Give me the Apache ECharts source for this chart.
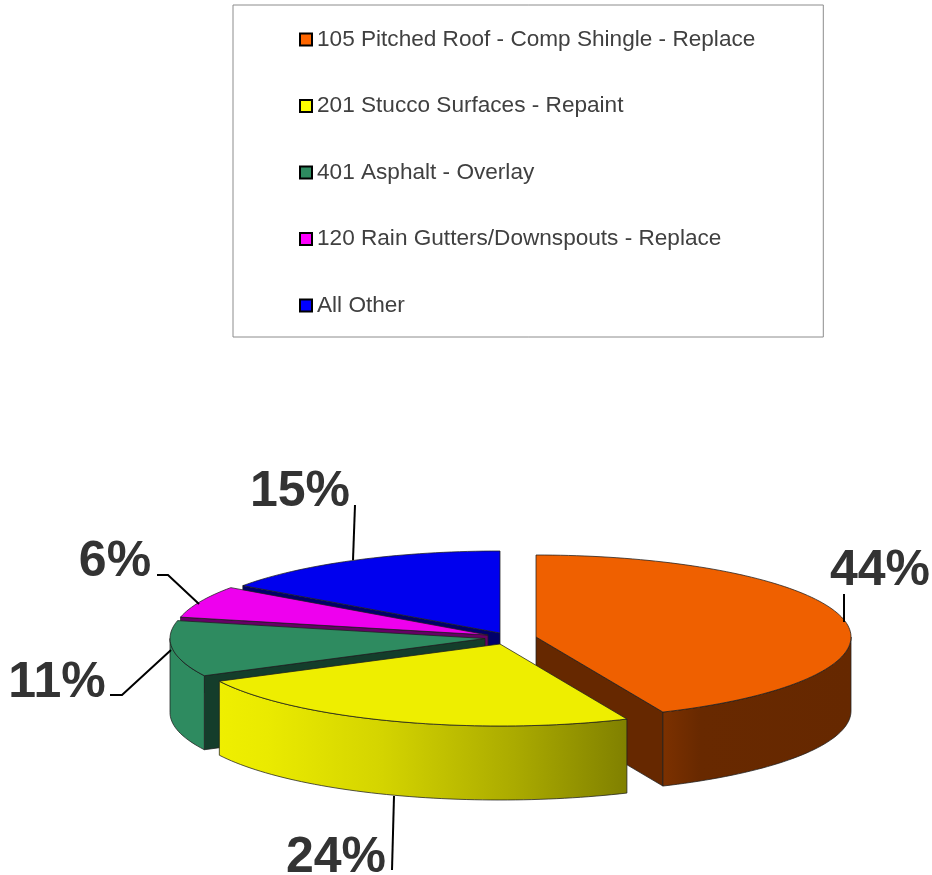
<!DOCTYPE html>
<html>
<head>
<meta charset="utf-8">
<style>html,body{margin:0;padding:0;background:#fff}#c{width:932px;height:875px}</style>
<script src="https://cdn.jsdelivr.net/npm/echarts@6/dist/echarts.min.js"></script>
</head>
<body>
<div id="c"></div>
<script>
// Data
const categories = [
  '105 Pitched Roof - Comp Shingle - Replace',
  '201 Stucco Surfaces - Repaint',
  '401 Asphalt - Overlay',
  '120 Rain Gutters/Downspouts - Replace',
  'All Other'
];
const shares = [43.4, 24.1, 11, 6.3, 15.2];
const percentLabels = ['44%', '24%', '11%', '6%', '15%'];

// Styles and layout
const legendColors = ['#FF6600', '#FFFF00', '#2E8B60', '#FF00FF', '#0000FF'];
const topColors = ['#EF6000', '#EEEE00', '#2E8B60', '#EE00EE', '#0000EE'];
const faceColors = ['#662800', '#7A7A00', '#143D2B', '#660066', '#00006A'];
const apexes = [[536, 637], [500, 644], [485, 638.5], [488, 635], [500, 633]];
const drawOrder = [4, 5, 3, 2, 1];
const leaders = [
  [[844, 594], [844, 622]],
  [[392, 870], [394, 796]],
  [[110, 695], [122, 695], [171, 650]],
  [[157, 575], [168, 575], [199, 604]],
  [[355, 505], [353, 560]]
];
const labelAt = [[880, 571], [336, 858], [57, 683], [115, 562], [300, 492]];
const RX = 315, RY = 82, DEPTH = 74;

const total = shares.reduce((a, b) => a + b, 0);
function startAngle(i) {
  let s = 0;
  for (let k = 0; k < i; k++) s += shares[k];
  return s / total * 360;
}
function pt(c, deg, dy) {
  const t = deg * Math.PI / 180;
  return [c[0] + RX * Math.sin(t), c[1] - RY * Math.cos(t) + (dy || 0)];
}
function arc(c, a, b, dy) {
  const n = Math.max(2, Math.ceil(Math.abs(b - a) / 1.5));
  const out = [];
  for (let k = 0; k <= n; k++) out.push(pt(c, a + (b - a) * k / n, dy));
  return out;
}
const edge = 'rgba(30,30,30,0.75)';

function sideFill(i) {
  if (i === 1) {
    return new echarts.graphic.LinearGradient(0, 0, 1, 0, [
      { offset: 0, color: '#EFEF00' },
      { offset: 0.12, color: '#EAEA00' },
      { offset: 0.4, color: '#D4D400' },
      { offset: 0.72, color: '#ABAB00' },
      { offset: 1, color: '#808000' }
    ]);
  }
  if (i === 0) {
    return new echarts.graphic.LinearGradient(0, 0, 1, 0, [
      { offset: 0, color: '#7C3100' },
      { offset: 0.2, color: '#682900' },
      { offset: 1, color: '#662800' }
    ]);
  }
  return topColors[i];
}

function makeRender(i) {
  return function (params, api) {
    const share = api.value(0);
    const a = startAngle(i);
    const b = a + share / total * 360;
    const c = apexes[i];
    const children = [];
    const poly = (points, fill) => children.push({
      type: 'polygon',
      shape: { points },
      style: { fill, stroke: edge, lineWidth: 1 }
    });
    const radial = (deg) => {
      const p = pt(c, deg), q = pt(c, deg, DEPTH);
      poly([c, p, q, [c[0], c[1] + DEPTH]], faceColors[i]);
    };
    // radial faces that look towards the viewer
    if (Math.sin(b * Math.PI / 180) > 0.001) radial(b);
    if (Math.sin(a * Math.PI / 180) < -0.001) radial(a);
    // outer rim on the front half of the ellipse
    const fa = Math.max(a, 90), fb = Math.min(b, 270);
    if (fb > fa) {
      poly(arc(c, fa, fb, 0).concat(arc(c, fb, fa, DEPTH)), sideFill(i));
    }
    // top face
    poly([c].concat(arc(c, a, b, 0)), topColors[i]);
    // leader line and label
    children.push({
      type: 'polyline',
      shape: { points: leaders[i] },
      style: { fill: 'none', stroke: '#000', lineWidth: 2 }
    });
    children.push({
      type: 'text',
      x: labelAt[i][0],
      y: labelAt[i][1],
      style: {
        text: percentLabels[i],
        fill: '#333333',
        font: 'bold 50px "Liberation Sans", Arial, sans-serif',
        align: 'center',
        verticalAlign: 'middle'
      }
    });
    return { type: 'group', children };
  };
}

const chart = echarts.init(document.getElementById('c'), null, { renderer: 'canvas' });
chart.setOption({
  animation: false,
  backgroundColor: '#fff',
  legend: {
    show: true,
    orient: 'vertical',
    left: 233,
    top: 5,
    padding: [23, 68, 20, 66],
    itemGap: 43.5,
    itemWidth: 12,
    itemHeight: 12,
    borderColor: '#8C8C8C',
    borderWidth: 1,
    selectedMode: false,
    icon: 'rect',
    textStyle: {
      color: '#404040',
      fontFamily: '"Liberation Sans", Arial, sans-serif',
      fontSize: 22.6,
      lineHeight: 22.5
    },
    data: categories.map((name, i) => ({
      name,
      itemStyle: { color: legendColors[i], borderColor: '#000', borderWidth: 2 }
    }))
  },
  series: categories.map((name, i) => ({
    type: 'custom',
    name,
    coordinateSystem: 'none',
    z: drawOrder[i],
    itemStyle: { color: legendColors[i] },
    data: [[shares[i]]],
    renderItem: makeRender(i)
  }))
});
</script>
</body>
</html>
